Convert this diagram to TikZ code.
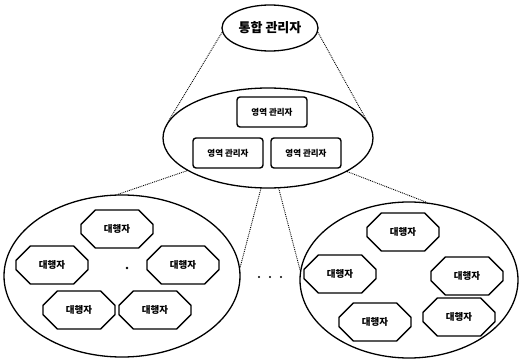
\documentclass[tikz,border=0pt]{standalone}
\usepackage{fontspec}
\newfontfamily\kr{Noto Sans CJK KR}
\usetikzlibrary{shapes.geometric,shapes.misc}
\begin{document}
\begin{tikzpicture}[x=1pt,y=-1pt,
  oval/.style={draw,ellipse,line width=1.3pt,inner sep=0pt},
  mgr/.style={draw,rounded corners=3pt,line width=1.4pt,minimum width=70pt,minimum height=30pt,inner sep=1pt,font=\kr\bfseries\fontsize{8.5}{10}\selectfont},
  agent/.style={draw,chamfered rectangle,chamfered rectangle xsep=9pt,chamfered rectangle ysep=9pt,line width=1.4pt,minimum width=72pt,minimum height=38pt,inner sep=1pt,font=\kr\bfseries\fontsize{9.5}{11}\selectfont},
  link/.style={densely dotted,line width=0.9pt}]
\useasboundingbox (0,0) rectangle (523,361);
% top manager
\node[oval,minimum width=96pt,minimum height=46pt,font=\kr\bfseries\fontsize{13}{15}\selectfont] (top) at (270,28) {통합 관리자};
% middle ellipse
\node[oval,minimum width=210pt,minimum height=100pt] (mid) at (268,138) {};
\node[mgr] (m1) at (272,112) {영역 관리자};
\node[mgr] (m2) at (228,153) {영역 관리자};
\node[mgr] (m3) at (306,153) {영역 관리자};
% left ellipse
\node[oval,minimum width=236pt,minimum height=162pt] (L) at (122,276) {};
\node[agent] (a1) at (117,229) {대행자};
\node[agent] (a2) at (52,265) {대행자};
\node[agent] (a3) at (183,265) {대행자};
\node[agent] (a4) at (79,310) {대행자};
\node[agent] (a5) at (155,310) {대행자};
\fill (127,268) circle (1.3pt);
% right ellipse
\node[oval,minimum width=218pt,minimum height=156pt] (R) at (409,280) {};
\node[agent] (b1) at (403,232) {대행자};
\node[agent] (b2) at (340,274) {대행자};
\node[agent] (b3) at (467,276) {대행자};
\node[agent] (b4) at (375,322) {대행자};
\node[agent] (b5) at (459,317) {대행자};
% ellipsis
\foreach \x in {259,270,281} \fill (\x,277) circle (1.2pt);
% connectors
\draw[link] (top.185) -- (mid.170);
\draw[link] (top.-5) -- (mid.11);
\draw[link] (mid.202) -- (L.93);
\draw[link] (mid.262) -- (L.4);
\draw[link] (mid.282) -- (R.175);
\draw[link] (mid.337) -- (R.77);
\end{tikzpicture}
\end{document}
